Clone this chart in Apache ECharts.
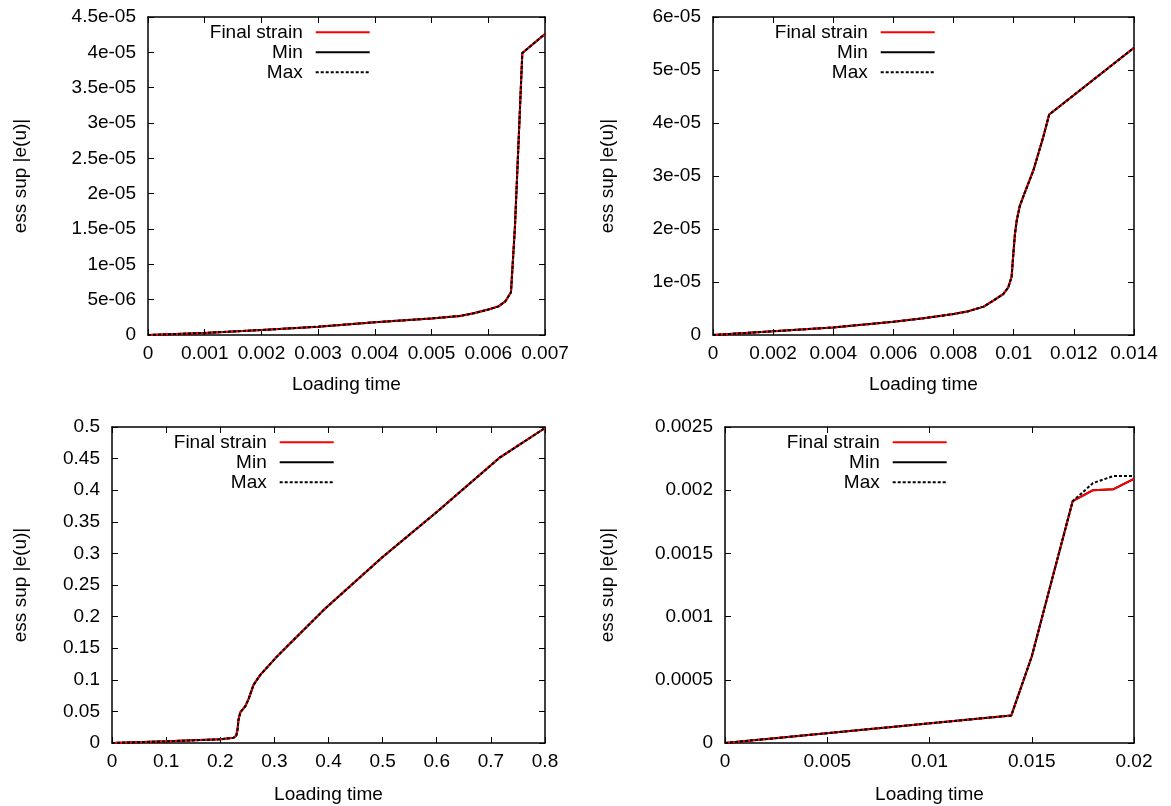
<!DOCTYPE html>
<html>
<head>
<meta charset="utf-8">
<title>ess sup |e(u)| vs loading time</title>
<script src="https://cdn.jsdelivr.net/npm/echarts@6/dist/echarts.min.js"></script>
<style>
  html, body { margin: 0; padding: 0; background: #fff; }
  #chart { width: 1171px; height: 806px; }
</style>
</head>
<body>
<div id="chart"></div>
<script>
// ---- data: loading time vs. essential supremum of the strain ----
// Panel 1
const time1   = [0, 0.001, 0.002, 0.003, 0.004, 0.005, 0.0055, 0.00574, 0.006, 0.00618, 0.0063, 0.0064, 0.00647, 0.00655, 0.0066, 0.007];
const strain1 = [0, 0.3e-6, 0.7e-6, 1.18e-6, 1.8e-6, 2.35e-6, 2.7e-6, 3.07e-6, 3.6e-6, 4.05e-6, 4.75e-6, 6.05e-6, 15.3e-6, 30.4e-6, 39.9e-6, 42.6e-6];
const min1    = strain1;
const max1    = strain1;
const xTicks1 = ['0', '0.001', '0.002', '0.003', '0.004', '0.005', '0.006', '0.007'];
const yTicks1 = ['0', '5e-06', '1e-05', '1.5e-05', '2e-05', '2.5e-05', '3e-05', '3.5e-05', '4e-05', '4.5e-05'];

// Panel 2
const time2   = [0, 0.002, 0.004, 0.006, 0.007, 0.008, 0.0085, 0.009, 0.00932, 0.00965, 0.00982, 0.00993, 0.00999, 0.01004, 0.0101, 0.0102, 0.01037, 0.01065, 0.01098, 0.01118, 0.014];
const strain2 = [0, 0.7e-6, 1.43e-6, 2.5e-6, 3.15e-6, 3.96e-6, 4.5e-6, 5.35e-6, 6.47e-6, 7.7e-6, 9.0e-6, 11e-6, 15.5e-6, 19e-6, 21.6e-6, 24.3e-6, 26.9e-6, 31e-6, 37.3e-6, 41.6e-6, 54.2e-6];
const min2    = strain2;
const max2    = strain2;
const xTicks2 = ['0', '0.002', '0.004', '0.006', '0.008', '0.01', '0.012', '0.014'];
const yTicks2 = ['0', '1e-05', '2e-05', '3e-05', '4e-05', '5e-05', '6e-05'];

// Panel 3
const time3   = [0, 0.1, 0.2, 0.2246, 0.2295, 0.2319, 0.2337, 0.237, 0.246, 0.2523, 0.2615, 0.274, 0.3046, 0.3354, 0.3908, 0.5, 0.6, 0.717, 0.8];
const strain3 = [0, 0.0026, 0.0058, 0.0082, 0.0116, 0.021, 0.0368, 0.0484, 0.0578, 0.0694, 0.092, 0.1078, 0.1367, 0.163, 0.2103, 0.2944, 0.3654, 0.452, 0.4984];
const min3    = strain3;
const max3    = strain3;
const xTicks3 = ['0', '0.1', '0.2', '0.3', '0.4', '0.5', '0.6', '0.7', '0.8'];
const yTicks3 = ['0', '0.05', '0.1', '0.15', '0.2', '0.25', '0.3', '0.35', '0.4', '0.45', '0.5'];

// Panel 4
const time4   = [0, 0.014, 0.015, 0.016, 0.017, 0.018, 0.019, 0.02];
const strain4 = [0, 0.000218, 0.000684, 0.0013, 0.001913, 0.002, 0.002008, 0.00209];
const min4    = strain4;
const max4    = [0, 0.000218, 0.000684, 0.0013, 0.001913, 0.002057, 0.002112, 0.002112];
const xTicks4 = ['0', '0.005', '0.01', '0.015', '0.02'];
const yTicks4 = ['0', '0.0005', '0.001', '0.0015', '0.002', '0.0025'];

const seriesNames = ['Final strain', 'Min', 'Max'];
const xTitle = 'Loading time';
const yTitle = 'ess sup |e(u)|';

// ---- layout of the four panels ----
const FONT = 'Liberation Sans';
const FS = 19;
const W = 1171;

const panels = [
  { grid: { left: 148, top: 17, width: 397, height: 318 },
    x: { max: 0.007, interval: 0.001, ticks: xTicks1 }, y: { max: 4.5e-5, interval: 5e-6, ticks: yTicks1 },
    t: time1, s: strain1, mn: min1, mx: max1, yGap: 118, xGap: 40 },
  { grid: { left: 713, top: 17, width: 421, height: 318 },
    x: { max: 0.014, interval: 0.002, ticks: xTicks2 }, y: { max: 6e-5, interval: 1e-5, ticks: yTicks2 },
    t: time2, s: strain2, mn: min2, mx: max2, yGap: 96, xGap: 40 },
  { grid: { left: 112, top: 427, width: 433, height: 316 },
    x: { max: 0.8, interval: 0.1, ticks: xTicks3 }, y: { max: 0.5, interval: 0.05, ticks: yTicks3 },
    t: time3, s: strain3, mn: min3, mx: max3, yGap: 82, xGap: 42 },
  { grid: { left: 725, top: 427, width: 409, height: 316 },
    x: { max: 0.02, interval: 0.005, ticks: xTicks4 }, y: { max: 0.0025, interval: 0.0005, ticks: yTicks4 },
    t: time4, s: strain4, mn: min4, mx: max4, yGap: 108, xGap: 42 }
];

const pairs = (xs, ys) => xs.map((x, i) => [x, ys[i]]);
const tickFormatter = (spec) => (v) => {
  const k = Math.round(v / spec.interval);
  return spec.ticks[k] !== undefined ? spec.ticks[k] : '';
};

const textBase = { fontFamily: FONT, fontSize: FS, color: '#000' };
const axisLineStyle = { show: true, onZero: false, lineStyle: { color: '#000', width: 1.5 } };
const tickStyle = { show: true, inside: true, length: 6, lineStyle: { color: '#000', width: 1 } };

const grid = [], xAxis = [], yAxis = [], series = [], legend = [];

panels.forEach((p, i) => {
  grid.push(p.grid);
  const xi = xAxis.length, yi = yAxis.length;

  // bottom axis with labels
  xAxis.push({
    type: 'value', gridIndex: i, position: 'bottom', min: 0, max: p.x.max, interval: p.x.interval,
    name: xTitle, nameLocation: 'middle', nameGap: p.xGap, nameTextStyle: textBase,
    axisLine: axisLineStyle, axisTick: tickStyle, splitLine: { show: false },
    axisLabel: Object.assign({ margin: 9, formatter: tickFormatter(p.x), showMinLabel: true, showMaxLabel: true }, textBase)
  });
  // mirrored top axis (ticks only)
  xAxis.push({
    type: 'value', gridIndex: i, position: 'top', min: 0, max: p.x.max, interval: p.x.interval,
    axisLine: axisLineStyle, axisTick: tickStyle, splitLine: { show: false }, axisLabel: { show: false }
  });
  // left axis with labels
  yAxis.push({
    type: 'value', gridIndex: i, position: 'left', min: 0, max: p.y.max, interval: p.y.interval,
    name: yTitle, nameLocation: 'middle', nameRotate: 90, nameGap: p.yGap, nameTextStyle: textBase,
    axisLine: axisLineStyle, axisTick: tickStyle, splitLine: { show: false },
    axisLabel: Object.assign({ margin: 12, formatter: tickFormatter(p.y), showMinLabel: true, showMaxLabel: true }, textBase)
  });
  // mirrored right axis (ticks only)
  yAxis.push({
    type: 'value', gridIndex: i, position: 'right', min: 0, max: p.y.max, interval: p.y.interval,
    axisLine: axisLineStyle, axisTick: tickStyle, splitLine: { show: false }, axisLabel: { show: false }
  });

  const common = { type: 'line', xAxisIndex: xi, yAxisIndex: yi, symbol: 'none', showSymbol: false, silent: true, smooth: false };
  // Min underneath, Final strain over it, Max dashed on top
  series.push(Object.assign({ name: 'Min', data: pairs(p.t, p.mn), z: 2,
    lineStyle: { color: '#000', width: 2 }, itemStyle: { color: '#000' } }, common));
  series.push(Object.assign({ name: 'Final strain', data: pairs(p.t, p.s), z: 3,
    lineStyle: { color: '#ff0000', width: 2 }, itemStyle: { color: '#ff0000' } }, common));
  series.push(Object.assign({ name: 'Max', data: pairs(p.t, p.mx), z: 4,
    lineStyle: { color: '#000', width: 2, type: [3, 2] }, itemStyle: { color: '#000' } }, common));

  legend.push({
    data: seriesNames, orient: 'vertical', align: 'right', selectedMode: false,
    right: W - (p.grid.left + 222.7), top: p.grid.top + 5.3,
    itemWidth: 54, itemHeight: 20, itemGap: 0, padding: 0,
    itemStyle: { opacity: 0 },
    textStyle: Object.assign({ lineHeight: 20, padding: [0, 8, 0, 0] }, textBase)
  });
});

const chart = echarts.init(document.getElementById('chart'), null, { renderer: 'canvas' });
chart.setOption({
  backgroundColor: '#fff',
  animation: false,
  textStyle: { fontFamily: FONT },
  grid, xAxis, yAxis, series, legend
});
</script>
</body>
</html>
